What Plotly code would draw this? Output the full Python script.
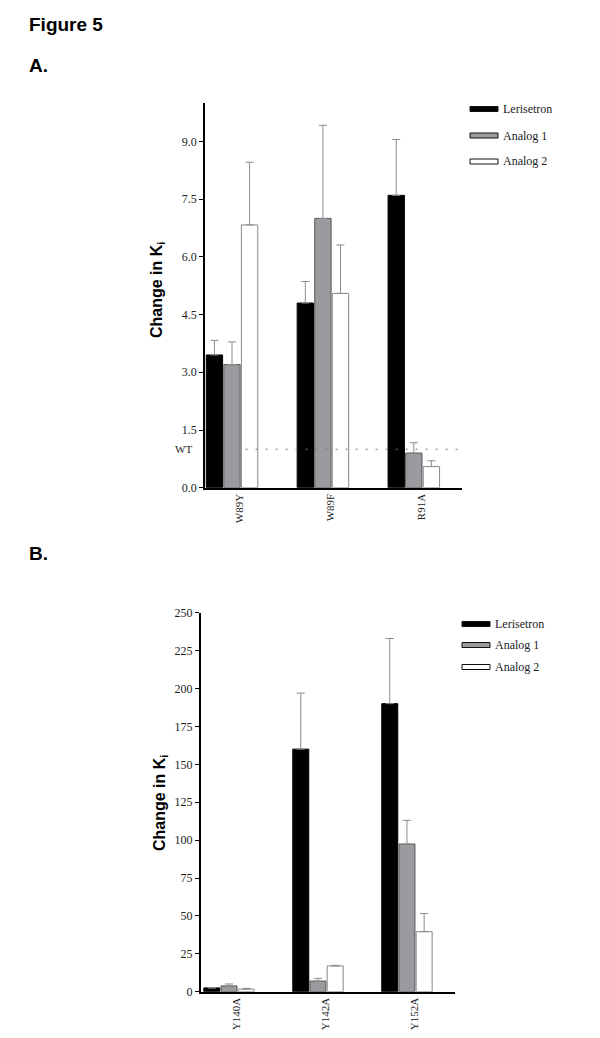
import plotly.graph_objects as go

# panel A data
cats_a = ['W89Y', 'W89F', 'R91A']
leri_a = [3.45, 4.80, 7.60]
leri_a_err = [0.38, 0.56, 1.45]
an1_a = [3.20, 7.00, 0.90]
an1_a_err = [0.59, 2.42, 0.27]
an2_a = [6.83, 5.05, 0.55]
an2_a_err = [1.63, 1.26, 0.15]
ticks_a = [0.0, 1.5, 3.0, 4.5, 6.0, 7.5, 9.0]

# panel B data
cats_b = ['Y140A', 'Y142A', 'Y152A']
leri_b = [2.5, 160, 190]
leri_b_err = [0, 37, 43]
an1_b = [3.8, 7.0, 97.4]
an1_b_err = [1.3, 1.8, 15.6]
an2_b = [1.7, 17.0, 39.6]
an2_b_err = [0.5, 0.4, 12.0]
ticks_b = [0, 25, 50, 75, 100, 125, 150, 175, 200, 225, 250]

series = ['Lerisetron', 'Analog 1', 'Analog 2']
fills = ['#000000', '#9b9b9f', '#ffffff']
edges = ['#000000', '#555555', '#888888']

# page body has an 8px margin, so the figure is a bit smaller than the page
OFF = 8
W, H = 600 - 2 * OFF, 1038 - 2 * OFF
def px(x):
    return (x - OFF) / W
def py(y):
    return 1 - (y - OFF) / H

serif = 'Liberation Serif'
sans = 'Liberation Sans'

fig = go.Figure()
pos = list(range(3))
lab_pos = [p + 0.08 for p in pos]  # labels sit a little right of the group centre
panels = [
    ('x', 'y', [leri_a, an1_a, an2_a], [leri_a_err, an1_a_err, an2_a_err]),
    ('x2', 'y2', [leri_b, an1_b, an2_b], [leri_b_err, an1_b_err, an2_b_err]),
]
for xa, ya, vals, errs in panels:
    for name, v, e, fc, ec in zip(series, vals, errs, fills, edges):
        fig.add_trace(go.Bar(
            x=pos, y=v, name=name, xaxis=xa, yaxis=ya,
            marker=dict(color=fc, line=dict(color=ec, width=1)),
            error_y=dict(type='data', array=e, arrayminus=[0] * len(e), symmetric=False,
                         color='#8c8c8c', thickness=1, width=4),
            showlegend=False))

axis_common = dict(showline=True, linecolor='black', linewidth=1.5, showgrid=False,
                   zeroline=False)
yfont = dict(family=serif, size=12, color='#222')
xfont = dict(family=serif, size=11, color='#222')
fig.update_layout(
    width=W, height=H, margin=dict(l=0, r=0, t=0, b=0, autoexpand=False),
    paper_bgcolor='white', plot_bgcolor='white',
    barmode='group', bargap=0.42, bargroupgap=0.07,
    xaxis=dict(domain=[px(205), px(462)], anchor='y', range=[-0.297, 2.53],
               tickvals=lab_pos, ticktext=cats_a, tickangle=-90, ticks='',
               tickfont=xfont, **axis_common),
    yaxis=dict(domain=[py(487.7), py(103)], anchor='x', range=[0, 10],
               tickvals=ticks_a, ticktext=['%.1f' % t for t in ticks_a],
               ticks='outside', ticklen=4, tickcolor='black', tickfont=yfont, **axis_common),
    xaxis2=dict(domain=[px(200.7), px(455)], anchor='y2', range=[-0.318, 2.54],
                tickvals=lab_pos, ticktext=cats_b, tickangle=-90, ticks='',
                tickfont=xfont, **axis_common),
    yaxis2=dict(domain=[py(991.7), py(612.7)], anchor='x2', range=[0, 250],
                tickvals=ticks_b, ticks='outside', ticklen=4, tickcolor='black',
                tickfont=yfont, **axis_common),
)

# WT reference line
fig.add_shape(type='line', xref='x', yref='y', x0=0.15, x1=2.53, y0=1, y1=1,
              line=dict(color='#777', width=1, dash='2px,8px'), layer='above')
fig.add_annotation(xref='paper', yref='y', x=px(183), y=1, text='WT', showarrow=False,
                   xanchor='center', yanchor='middle',
                   font=dict(family=serif, size=11, color='#222'))

# titles
for label, yy in [('Figure 5', 24), ('A.', 66), ('B.', 553)]:
    fig.add_annotation(xref='paper', yref='paper', x=px(27), y=py(yy), xanchor='left',
                       yanchor='middle', text='<b>%s</b>' % label, showarrow=False,
                       font=dict(family=sans, size=19, color='black'))

# y-axis titles
for xc, yc in [(158, 290), (160, 803)]:
    fig.add_annotation(xref='paper', yref='paper', x=px(xc), y=py(yc), textangle=-90,
                       xanchor='center', yanchor='middle',
                       text='<b>Change in K<sub>i</sub></b>', showarrow=False,
                       font=dict(family=sans, size=16, color='black'))

# legends
for x0, x1, ys in [(470, 498, [109, 135.5, 161.5]), (462, 490, [624, 645, 667])]:
    for name, fc, ec, yy in zip(series, fills, edges, ys):
        fig.add_shape(type='rect', xref='paper', yref='paper', x0=px(x0), x1=px(x1),
                      y0=py(yy - 2.5), y1=py(yy + 2.5), fillcolor=fc,
                      line=dict(color='#111', width=1))
        fig.add_annotation(xref='paper', yref='paper', x=px(x1 + 3), y=py(yy), xanchor='left',
                           yanchor='middle', text=name, showarrow=False,
                           font=dict(family=serif, size=12, color='#222'))

fig.write_html("out.html")
